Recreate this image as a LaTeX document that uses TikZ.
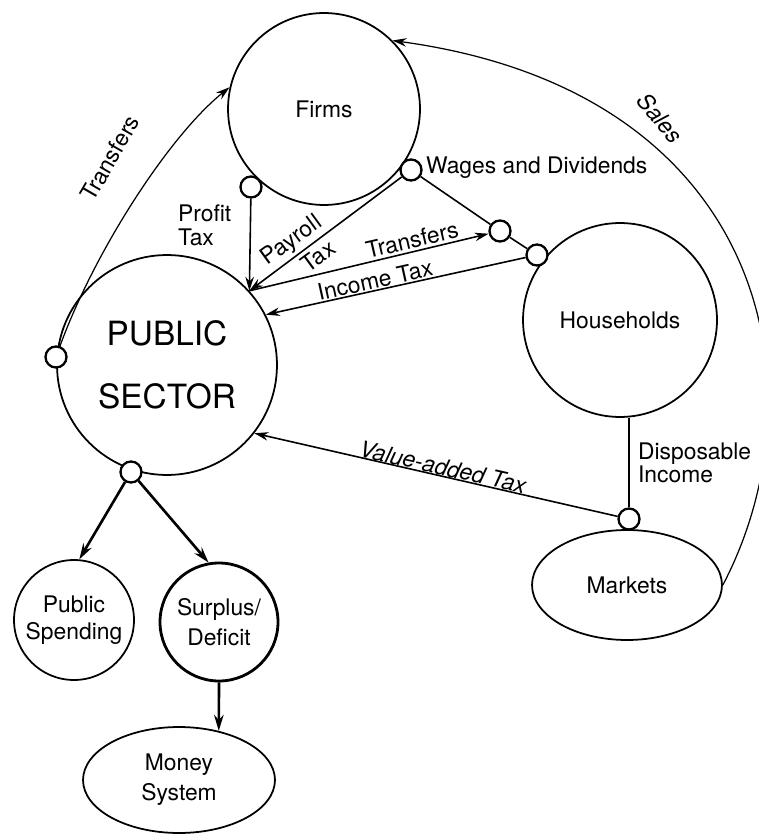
\documentclass[tikz,border=0pt]{standalone}
\usepackage{fontspec}
\setmainfont{TeX Gyre Heros}
\usetikzlibrary{shapes.geometric,arrows.meta}

\newcommand{\txtsize}{\fontsize{13}{15}\selectfont}

\begin{document}
\begin{tikzpicture}[x=0.02cm,y=-0.02cm,
  sector/.style={draw,circle,line width=1pt,inner sep=0pt,align=center,font=\txtsize},
  market/.style={draw,ellipse,line width=1pt,inner sep=0pt,align=center,font=\txtsize},
  joint/.style={draw,circle,line width=1.3pt,minimum size=4.2mm,inner sep=0pt,fill=white},
  flow/.style={-{Stealth[length=2.8mm,width=1.7mm]},line width=0.9pt},
  bigflow/.style={-{Stealth[length=3.2mm,width=1.9mm]},line width=1.5pt},
  lbl/.style={font=\txtsize,inner sep=1pt}]
\useasboundingbox (0,0) rectangle (758,834);

% sectors
\node[sector,minimum size=3.84cm] (firms) at (324,109) {Firms};
\node[sector,minimum size=4.4cm,font=\fontsize{19}{36}\selectfont] (public) at (167,365) {PUBLIC\\SECTOR};
\node[sector,minimum size=3.88cm] (households) at (620,320) {Households};
\node[market,minimum width=3.8cm,minimum height=2.2cm] (markets) at (627,585) {Markets};
\node[sector,minimum size=2.4cm] (spending) at (74,620) {Public\\Spending};
\node[sector,minimum size=2.36cm,line width=1.6pt] (surplus) at (219,622) {Surplus/\\[2pt]Deficit};
\node[market,minimum width=3.84cm,minimum height=2.12cm] (money) at (179,780) {Money\\[2pt]System};

% junctions
\node[joint] (jl) at (56,357) {};
\node[joint] (jb) at (131,472) {};
\node[joint] (jp) at (251,187) {};
\node[joint] (jw) at (411,170) {};
\node[joint] (jt) at (500,231) {};
\node[joint] (jh) at (537,255) {};
\node[joint] (jm) at (629,519) {};

\coordinate (pin) at (public.42);

% flows
\draw[flow] (jp) -- (pin);
\draw[flow] (jw) -- (pin);
\draw[flow] (pin) -- (jt);
\draw[line width=0.9pt] (jw) -- (jt) -- (jh);
\draw[flow] (jh) -- (public.27);
\draw[line width=0.8pt] (jm) -- (jm |- households.south);
\draw[flow] (jm) -- (public.-38);
\draw[flow,line width=0.7pt] (markets.east) .. controls (825,390) and (769,92) .. (firms.45);
\draw[flow,line width=0.7pt] (jl) .. controls (95,250) and (170,135) .. (firms.167);
\draw[bigflow] (jb) -- (spending.85);
\draw[bigflow] (jb) -- (surplus.100);
\draw[bigflow] (surplus.south) -- (money.51);

% labels
\node[lbl,rotate=60] (ltrans) at (110,158) {Transfers};
\node[lbl,align=left,anchor=west,font=\fontsize{13}{13.6}\selectfont] (lprofit) at (176,225) {Profit\\Tax};
\node[lbl,rotate=36] (lpay) at (292,241) {Payroll};
\node[lbl,rotate=36] (lpaytax) at (318,256) {Tax};
\node[lbl,rotate=13] (lmtrans) at (412,240) {Transfers};
\node[lbl,rotate=12.5] (linc) at (375,280) {Income Tax};
\node[lbl,anchor=west] (lwages) at (424,168) {Wages and Dividends};
\node[lbl,rotate=-50,font=\txtsize\itshape] (lsales) at (660,118) {Sales};
\node[lbl,align=left,anchor=west,font=\fontsize{13}{13}\selectfont] (ldisp) at (636,463) {Disposable\\Income};
\node[lbl,rotate=-12.7,font=\txtsize\itshape] (lvat) at (443,467) {Value-added Tax};
\end{tikzpicture}
\end{document}
